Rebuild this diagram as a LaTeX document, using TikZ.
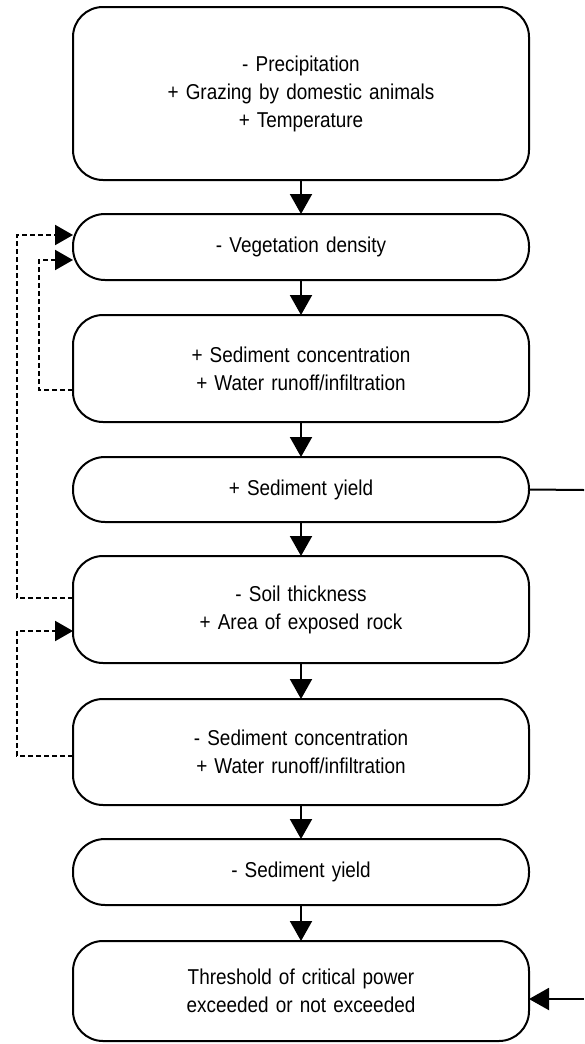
\documentclass[tikz,border=0pt]{standalone}
\usepackage{fontspec}
\setmainfont{Liberation Sans}
\newfontfamily\boxfont[FakeStretch=0.88]{Liberation Sans}
\usetikzlibrary{positioning,arrows.meta}

\begin{document}
\begin{tikzpicture}[x=1pt,y=1pt,
  box/.style={draw,line width=2pt,rounded corners=30pt,text width=456pt,align=center,
    inner sep=0pt,outer sep=0pt,font=\boxfont\fontsize{21.5}{28}\selectfont},
  pill/.style={box,rounded corners=32pt},
  flow/.style={line width=2pt,-{Triangle[length=20pt,width=22pt]}},
  fb/.style={flow,dash pattern=on 5pt off 3pt,-{Triangle[length=18pt,width=20pt]}}]
\useasboundingbox (0,0) rectangle (584,-1044);

\node[box,minimum height=173pt] (drivers) at (301,-93.5)
  {- Precipitation\\+ Grazing by domestic animals\\+ Temperature};
\node[pill,minimum height=66pt,below=34pt of drivers] (veg) {- Vegetation density};
\node[box,minimum height=107pt,below=35pt of veg] (conc)
  {+ Sediment concentration\\+ Water runoff/infiltration};
\node[pill,minimum height=65pt,below=35pt of conc] (yield) {+ Sediment yield};
\node[box,minimum height=107pt,below=34pt of yield] (soil)
  {- Soil thickness\\+ Area of exposed rock};
\node[box,minimum height=106pt,below=36pt of soil] (runoff)
  {- Sediment concentration\\+ Water runoff/infiltration};
\node[pill,minimum height=66pt,below=34pt of runoff] (lowyield) {- Sediment yield};
\node[box,minimum height=100pt,below=36pt of lowyield] (thresh)
  {Threshold of critical power\\exceeded or not exceeded};

\draw[flow] (drivers) -- (veg);
\draw[flow] (veg) -- (conc);
\draw[flow] (conc) -- (yield);
\draw[flow] (yield) -- (soil);
\draw[flow] (soil) -- (runoff);
\draw[flow] (runoff) -- (lowyield);
\draw[flow] (lowyield) -- (thresh);

% feedback loops
\draw[fb] ([yshift=-21.5]conc.west) -- ++(-34,0) |- ([yshift=-13]veg.west);
\draw[fb] ([yshift=11.5]soil.west) -- ++(-56,0) |- ([yshift=12]veg.west);
\draw[fb] ([yshift=-4]runoff.west) -- ++(-56,0) |- ([yshift=-21.5]soil.west);

\coordinate (outA) at (584,-490);
\coordinate (outB) at (584,-999);
\draw[line width=2pt] (yield.east) -- (outA);
\draw[flow] (outB) -- (outB -| thresh.east);
\end{tikzpicture}
\end{document}
